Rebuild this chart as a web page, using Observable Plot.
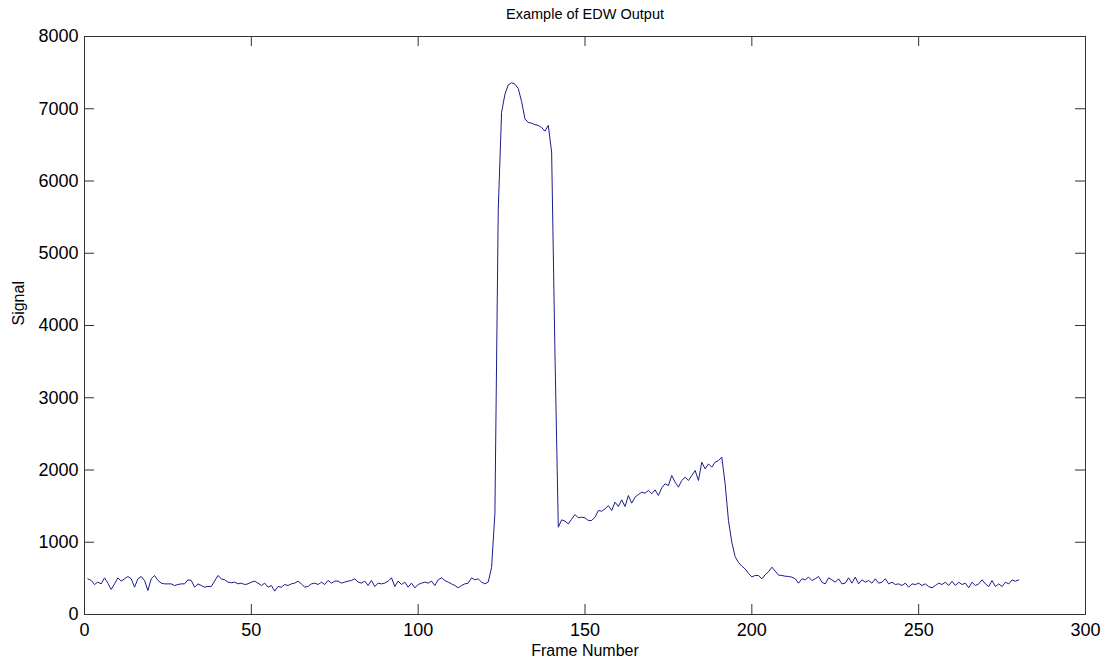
<!DOCTYPE html>
<html><head><meta charset="utf-8">
<script src="https://cdn.jsdelivr.net/npm/d3@7"></script>
<script src="https://cdn.jsdelivr.net/npm/@observablehq/plot@0.6"></script>
<style>
body{margin:0;background:#fff;}
#chart svg{display:block;}
</style>
</head><body><div id="chart"></div>
<script>
// Signal value for each frame, starting at frame 1
const signal = [
  494,471,415,448,424,507,434,346,424,507,
  462,494,526,494,378,494,526,471,332,494,
  540,471,434,424,424,424,401,415,424,424,
  480,471,378,424,401,378,388,388,462,540,
  494,480,448,439,448,424,434,415,424,448,
  462,434,401,434,378,401,323,388,378,415,
  401,424,434,462,424,378,388,424,434,415,
  448,415,471,434,462,462,434,448,462,471,
  494,448,434,462,401,471,388,434,424,434,
  462,507,388,462,415,448,378,434,369,415,
  434,448,434,462,401,480,507,471,448,424,
  401,369,401,424,434,507,480,494,448,424,
  450,650,1400,5600,6950,7200,7330,7360,7340,7280,
  7100,6860,6810,6800,6780,6770,6740,6690,6770,6400,
  3600,1208,1310,1292,1255,1320,1384,1338,1347,1338,
  1301,1301,1347,1439,1430,1462,1508,1439,1555,1495,
  1587,1495,1647,1541,1624,1661,1693,1679,1716,1670,
  1725,1647,1753,1809,1785,1924,1832,1762,1855,1901,
  1855,1924,1993,1855,2108,2016,2085,2039,2108,2131,
  2177,1810,1300,1000,800,720,670,630,570,520,
  540,540,494,550,590,655,600,545,540,530,
  526,517,494,434,494,480,517,470,494,526,
  447,424,508,480,447,494,424,434,508,434,
  517,424,480,447,470,434,494,434,447,494,
  424,447,415,424,401,434,378,424,415,434,
  401,424,387,369,401,434,415,447,401,461,
  401,447,415,434,369,447,401,424,480,424,
  387,470,387,424,387,447,424,479,461,479
];
const frames = signal.map((_, i) => i + 1);
const xTicks = [0, 50, 100, 150, 200, 250, 300];
const yTicks = [0, 1000, 2000, 3000, 4000, 5000, 6000, 7000, 8000];
const titleText = "Example of EDW Output";
const xLabel = "Frame Number";
const yLabel = "Signal";

const data = frames.map((f, i) => ({frame: f, signal: signal[i]}));

const W = 1106, H = 662;
const mL = 84, mR = 21, mT = 36, mB = 48;
const fw = W - mL - mR, fh = H - mT - mB;
const tickLen = 10;
const font = "'Liberation Sans', Arial, Helvetica, sans-serif";
const axisColor = "#333";

const chart = Plot.plot({
  width: W,
  height: H,
  marginLeft: mL,
  marginRight: mR,
  marginTop: mT,
  marginBottom: mB,
  style: {fontFamily: font, background: "#fff", color: "#000"},
  x: {domain: [0, 300]},
  y: {domain: [0, 8000]},
  marks: [
    Plot.line(data, {x: "frame", y: "signal", stroke: "#1c1c8c", strokeWidth: 1}),
    Plot.frame({stroke: axisColor, strokeWidth: 1}),
    // inward ticks on all four sides
    Plot.tickX(xTicks, {x: d => d, insetTop: fh - tickLen, stroke: axisColor}),
    Plot.tickX(xTicks, {x: d => d, insetBottom: fh - tickLen, stroke: axisColor}),
    Plot.tickY(yTicks, {y: d => d, insetRight: fw - tickLen, stroke: axisColor}),
    Plot.tickY(yTicks, {y: d => d, insetLeft: fw - tickLen, stroke: axisColor}),
    Plot.axisX({ticks: xTicks, tickSize: 0, tickPadding: 9, fontSize: 18, label: null, tickFormat: d => String(d)}),
    Plot.axisY({ticks: yTicks, tickSize: 0, tickPadding: 6, fontSize: 18, label: null, tickFormat: d => String(d)}),
    Plot.text([titleText], {text: d => d, frameAnchor: "top", dy: -22, fontSize: 14.5, lineAnchor: "middle", fill: "#000"}),
    Plot.text([xLabel], {text: d => d, frameAnchor: "bottom", dy: 36, fontSize: 16, lineAnchor: "middle", fill: "#000"}),
    Plot.text([yLabel], {text: d => d, frameAnchor: "left", dx: -66, rotate: -90, fontSize: 16, lineAnchor: "middle", fill: "#000"})
  ]
});
document.getElementById("chart").appendChild(chart);
</script>
</body></html>
